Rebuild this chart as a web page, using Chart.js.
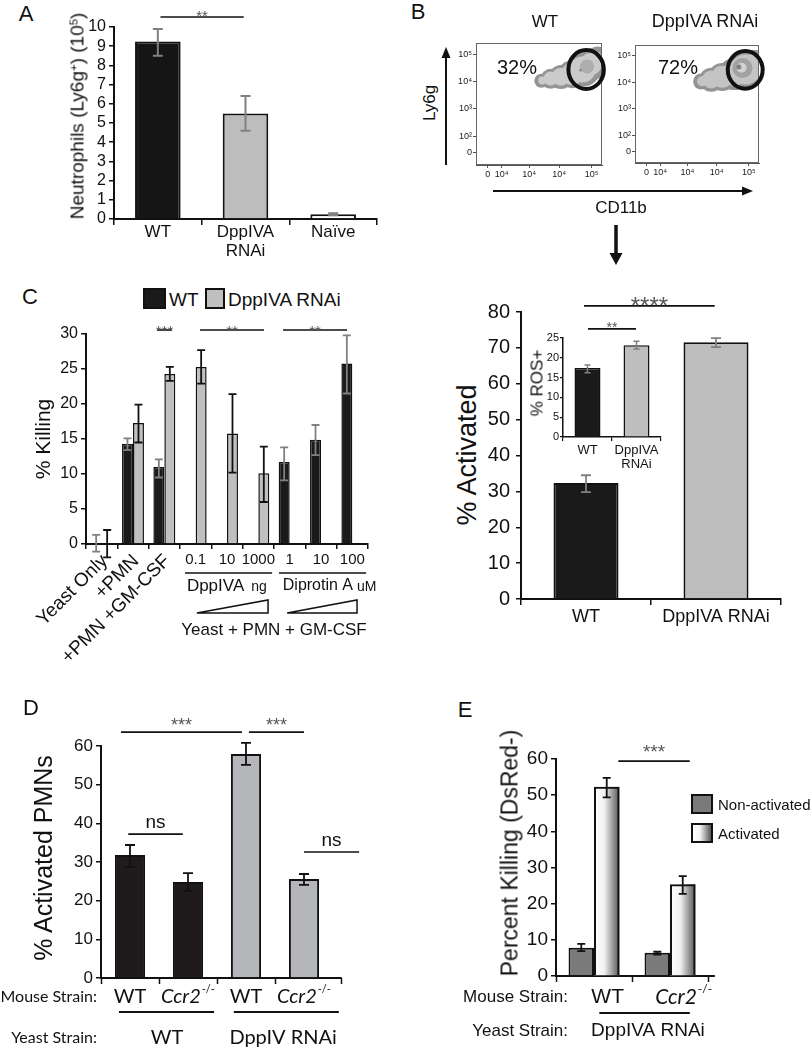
<!DOCTYPE html>
<html><head><meta charset="utf-8">
<script src="https://cdn.jsdelivr.net/npm/chart.js@4.4.1/dist/chart.umd.min.js"></script>
<style>
html,body{margin:0;padding:0;background:#fff;}
body{width:810px;height:1050px;position:relative;overflow:hidden;font-family:'Liberation Sans',Arial,Helvetica,sans-serif;color:#111;}
canvas{position:absolute;}
.t{position:absolute;white-space:nowrap;line-height:1;}
.t sup{font-size:0.6em;position:relative;top:-0.55em;vertical-align:baseline;line-height:0;}
.box{position:absolute;box-sizing:border-box;border:2px solid #111;}
</style></head><body>
<script>
// ================= DATA =================
// Panel A
const aCats = ['WT', ['DppIVA','RNAi'], 'Naïve'];
const aValues = [9.25, 5.5, 0.25];
const aErrLow = [8.5, 4.6, 0.2];
const aErrHigh = [9.9, 6.4, 0.3];

// Panel B (flow plots): density layers, outer -> inner
const bXTickValues = [12.5, 27.5, 57, 89, 124];
const bXTickLabels = ['0','10⁴','10⁴','10⁴','10⁵'];
const bYTickValues = [1.39, 2, 3, 4, 5];
const bYTickLabels = ['0','10²','10³','10⁴','10⁵'];
const bWtOuter = [{x:70,y:4.03,r:7},{x:80,y:4.10,r:10},{x:91,y:4.17,r:12},{x:103,y:4.27,r:14},{x:115,y:4.44,r:17},{x:125,y:4.64,r:16},{x:130,y:4.92,r:10}];
const bWtInner = [{x:71,y:4.04,r:4},{x:80,y:4.11,r:7},{x:91,y:4.18,r:9},{x:103,y:4.28,r:11},{x:114,y:4.44,r:13},{x:123,y:4.64,r:11},{x:128,y:4.9,r:6}];
const bWtRing  = [{x:119,y:4.55,r:7}];
const bWtCore  = [{x:112,y:4.42,r:1.5}];
const bKdOuter = [{x:72,y:4.03,r:8},{x:83,y:4.10,r:12},{x:95,y:4.20,r:14},{x:108,y:4.31,r:16},{x:121,y:4.47,r:19},{x:131,y:4.58,r:17}];
const bKdInner = [{x:73,y:4.04,r:5},{x:83,y:4.11,r:9},{x:95,y:4.21,r:11},{x:108,y:4.32,r:12},{x:120,y:4.48,r:15},{x:129,y:4.58,r:13}];
const bKdRing  = [{x:117,y:4.54,r:10}];
const bKdCore  = [{x:116,y:4.55,r:5}];
const bKdDot   = [{x:113,y:4.58,r:2.5}];
const bGateWT = [118, 4.44, 19, 0.71];
const bGateKd = [120, 4.47, 19, 0.71];
const bPercents = ['32%','72%'];

// Panel C (killing)
const cCats = ['Yeast Only','+PMN','+PMN +GM-CSF','0.1','10','1000','1','10','100'];
const cWT     = [0, 14.3, 11.0, null, null, null, 11.7, 14.9, 25.8];
const cWTLow  = [-1.1, 13.4, 9.5, null, null, null, 9.1, 12.7, 21.5];
const cWTHigh = [1.3, 15.1, 12.1, null, null, null, 13.8, 17.0, 29.8];
const cKD     = [0, 17.3, 24.3, 25.3, 15.8, 10.1, null, null, null];
const cKDLow  = [-1.9, 14.5, 23.3, 22.9, 10.2, 6.0, null, null, null];
const cKDHigh = [2.0, 19.9, 25.3, 27.7, 21.4, 13.9, null, null, null];
const cGroupNames = ['DppIVA','Diprotin A'];
const cGroupUnits = ['ng','uM'];
const cSubtitle = 'Yeast + PMN + GM-CSF';

// Panel C (activated) + inset
const crCats = ['WT','DppIVA RNAi'];
const crValues = [32.3, 71.6];
const crLow = [29.8, 70.2];
const crHigh = [34.5, 72.7];
const insCats = ['WT',['DppIVA','RNAi']];
const insValues = [17.4, 23.2];
const insLow = [16.2, 22.2];
const insHigh = [18.2, 24.2];

// Panel D
const dMouse = ['WT','Ccr2-/-','WT','Ccr2-/-'];
const dYeast = ['WT','DppIV RNAi'];
const dValues = [31.8, 24.8, 57.9, 25.6];
const dLow = [28.7, 22.5, 55.1, 24.1];
const dHigh = [34.4, 27.1, 60.8, 26.9];

// Panel E
const eMouse = ['WT','Ccr2-/-'];
const eYeast = ['DppIVA RNAi'];
const eSeries = ['Non-activated','Activated'];
const eNon = [7.8, 6.4];
const eNonLow = [6.9, 5.9];
const eNonHigh = [8.9, 6.7];
const eAct = [52.3, 25.4];
const eActLow = [49.4, 22.7];
const eActHigh = [54.8, 27.6];

// ================= HELPERS =================
const FONT = "'Liberation Sans', Arial, Helvetica, sans-serif";
const LATO = "Lato, 'Open Sans', sans-serif";
Chart.defaults.font.family = FONT;
Chart.defaults.color = '#111';
Chart.defaults.animation = false;
Chart.defaults.events = [];
Chart.defaults.plugins.legend.display = false;
Chart.defaults.plugins.tooltip.enabled = false;

function canvasAt(x, y, w, h) {
  const c = document.createElement('canvas');
  c.width = w; c.height = h;
  c.style.left = x + 'px'; c.style.top = y + 'px';
  c.style.width = w + 'px'; c.style.height = h + 'px';
  c.dataset.ox = x; c.dataset.oy = y;
  document.body.appendChild(c);
  return c;
}
function T(html, x, y, size, o = {}) {
  const d = document.createElement('div');
  d.className = 't'; d.innerHTML = html;
  d.style.fontSize = size + 'px';
  if (o.fam) d.style.fontFamily = o.fam;
  d.style.left = x + 'px'; d.style.top = y + 'px';
  const ax = o.align === 'left' ? '0' : (o.align === 'right' ? '-100%' : '-50%');
  d.style.transform = 'translate(' + ax + ',-50%)' + (o.rot ? ' rotate(' + o.rot + 'deg)' : '');
  document.body.appendChild(d);
  return d;
}
function B(x, y, w, h, bg) {
  const d = document.createElement('div');
  d.className = 'box';
  d.style.left = x + 'px'; d.style.top = y + 'px';
  d.style.width = w + 'px'; d.style.height = h + 'px';
  d.style.background = bg;
  document.body.appendChild(d);
}
// convert page coordinates to canvas coordinates
function PX(ch, x) { return x - Number(ch.canvas.dataset.ox); }
function PY(ch, y) { return y - Number(ch.canvas.dataset.oy); }

function yAxis(min, max, step, fontSize, width, o = {}) {
  return {
    type: 'linear', min: min, max: max,
    ticks: { stepSize: step, autoSkip: false, font: { size: fontSize }, color: '#111', padding: (o.pad != null ? o.pad : 3) },
    grid: { drawOnChartArea: false, drawTicks: true, tickLength: (o.tl || 5), color: '#111', lineWidth: (o.glw || 1.5) },
    border: { display: true, color: '#111', width: (o.bw || 2) },
    afterFit(s) { s.width = width; }
  };
}
function xAxis(height, o = {}) {
  return {
    type: 'category', offset: true,
    grid: { offset: true, drawOnChartArea: false, drawTicks: o.ticks !== false, tickLength: (o.tl || 6), color: '#111', lineWidth: (o.glw || 1.5) },
    border: { display: true, color: '#111', width: (o.bw || 2) },
    ticks: { display: !!o.labels, font: { size: (o.fs || 16), lineHeight: 1.1 }, color: '#111', padding: (o.pad != null ? o.pad : 2), maxRotation: 0, minRotation: 0, autoSkip: false },
    afterFit(s) { s.height = height; }
  };
}
function drawErr(chart, ds, lo, hi, color, cap, lw) {
  const ctx = chart.ctx, ys = chart.scales.y, meta = chart.getDatasetMeta(ds);
  ctx.save(); ctx.strokeStyle = color; ctx.lineWidth = lw || 1.8;
  meta.data.forEach((el, j) => {
    if (lo[j] == null || hi[j] == null) return;
    const x = el.x, a = ys.getPixelForValue(lo[j]), b = ys.getPixelForValue(hi[j]);
    ctx.beginPath();
    ctx.moveTo(x, a); ctx.lineTo(x, b);
    ctx.moveTo(x - cap, a); ctx.lineTo(x + cap, a);
    ctx.moveTo(x - cap, b); ctx.lineTo(x + cap, b);
    ctx.stroke();
  });
  ctx.restore();
}
function hline(ctx, x0, x1, y, lw, color) {
  ctx.save(); ctx.strokeStyle = color || '#111'; ctx.lineWidth = lw || 1.5;
  ctx.beginPath(); ctx.moveTo(x0, y); ctx.lineTo(x1, y); ctx.stroke(); ctx.restore();
}
function ctext(ctx, s, x, y, size, align, fam, style, color) {
  ctx.save();
  ctx.font = (style ? style + ' ' : '') + size + 'px ' + (fam || FONT);
  ctx.fillStyle = color || '#111'; ctx.textAlign = align || 'center'; ctx.textBaseline = 'middle';
  ctx.fillText(s, x, y); ctx.restore();
}
function drawSig(chart, i0, i1, v, label, size, gap, color, lw) {
  const ctx = chart.ctx, xs = chart.scales.x, ys = chart.scales.y;
  const x0 = xs.getPixelForValue(i0), x1 = xs.getPixelForValue(i1), y = ys.getPixelForValue(v);
  hline(ctx, x0, x1, y, lw || 1.6, '#111');
  ctx.save();
  ctx.fillStyle = color || '#555'; ctx.font = size + 'px ' + FONT;
  ctx.textAlign = 'center'; ctx.textBaseline = 'alphabetic';
  const cy = y - gap;
  const star = label.indexOf('*') >= 0;
  ctx.fillText(label, (x0 + x1) / 2, star ? cy + 0.57 * size : cy + 0.26 * size);
  ctx.restore();
}
function strainLabel(ctx, s, cx, cy, size, fam) {
  ctx.save(); ctx.fillStyle = '#111'; ctx.textBaseline = 'middle';
  if (s.indexOf('-/-') > 0) {
    const base = s.replace('-/-', '');
    const f1 = 'italic ' + size + 'px ' + fam, f2 = Math.round(size * 0.55) + 'px ' + fam;
    ctx.font = f1; const w1 = ctx.measureText(base).width;
    ctx.font = f2; const w2 = ctx.measureText('-/-').width;
    const x0 = cx - (w1 + w2 + 1) / 2;
    ctx.textAlign = 'left';
    ctx.font = f1; ctx.fillText(base, x0, cy);
    ctx.font = f2; ctx.fillText('-/-', x0 + w1 + 1, cy - size * 0.38);
  } else {
    ctx.font = size + 'px ' + fam; ctx.textAlign = 'center'; ctx.fillText(s, cx, cy);
  }
  ctx.restore();
}
function tickMarks(chart, idxs, len) {
  const ctx = chart.ctx, xs = chart.scales.x, b = chart.chartArea.bottom;
  ctx.save(); ctx.strokeStyle = '#111'; ctx.lineWidth = 1.5; ctx.beginPath();
  idxs.forEach(i => { const x = Math.round(xs.getPixelForValue(i)) + 0.5; ctx.moveTo(x, b); ctx.lineTo(x, b + len); });
  ctx.stroke(); ctx.restore();
}

// ================= PANEL A =================
new Chart(canvasAt(60, 0, 330, 262), {
  type: 'bar',
  data: { labels: aCats, datasets: [{ data: aValues, backgroundColor: ['#151515', '#bdbdbd', '#ffffff'], borderColor: '#111', borderWidth: 2, categoryPercentage: 1, barPercentage: 0.52 }] },
  options: {
    responsive: false,
    layout: { padding: { left: 14, top: 27, right: 13, bottom: 3 } },
    scales: { x: xAxis(40, { labels: true, fs: 17, pad: -2 }), y: yAxis(0, 10, 1, 16, 40) }
  },
  plugins: [{ id: 'pa', afterDraw(ch) {
    drawErr(ch, 0, aErrLow, aErrHigh, '#808080', 5, 2);
    drawSig(ch, 0.03, 0.98, 10.52, '**', 15, 4.5);
  } }]
});

// ================= PANEL B =================
function flow(canvasLeft, areaLeft, layers, gate) {
  const yW = areaLeft - canvasLeft;
  return new Chart(canvasAt(canvasLeft, 26, 171, 156), {
    type: 'bubble',
    data: { datasets: layers.map((l, i) => ({ data: l[0], backgroundColor: l[1], borderWidth: 0, order: layers.length - i })) },
    options: {
      responsive: false,
      layout: { padding: { left: 0, top: 8, right: 171 - yW - 135, bottom: 3 } },
      scales: {
        x: { type: 'linear', min: 0, max: 135,
          afterBuildTicks(s) { s.ticks = bXTickValues.map(v => ({ value: v })); },
          ticks: { callback: (v, i) => bXTickLabels[i], font: { size: 9 }, color: '#222', padding: 1, maxRotation: 0, autoSkip: false },
          grid: { drawOnChartArea: false, tickLength: 3, color: '#555', lineWidth: 1 },
          border: { color: '#555', width: 1 },
          afterFit(s) { s.height = 14; } },
        y: { type: 'linear', min: 0.95, max: 5.41,
          afterBuildTicks(s) { s.ticks = bYTickValues.map(v => ({ value: v })); },
          ticks: { callback: (v, i) => bYTickLabels[i], font: { size: 9 }, color: '#222', padding: 1, autoSkip: false },
          grid: { drawOnChartArea: false, tickLength: 3, color: '#555', lineWidth: 1 },
          border: { color: '#555', width: 1 },
          afterFit(s) { s.width = yW; } }
      }
    },
    plugins: [{ id: 'gate', afterDraw(ch) {
      const a = ch.chartArea, ctx = ch.ctx, xs = ch.scales.x, ys = ch.scales.y;
      ctx.save();
      ctx.strokeStyle = '#666'; ctx.lineWidth = 1;
      ctx.strokeRect(a.left + 0.5, a.top + 0.5, a.right - a.left - 1, a.bottom - a.top - 1);
      const cx = xs.getPixelForValue(gate[0]), cy = ys.getPixelForValue(gate[1]);
      const rx = Math.abs(xs.getPixelForValue(gate[0] + gate[2]) - cx), ry = Math.abs(ys.getPixelForValue(gate[1] + gate[3]) - cy);
      ctx.strokeStyle = '#111'; ctx.lineWidth = 4;
      ctx.beginPath(); ctx.ellipse(cx, cy, rx, ry, 0, 0, Math.PI * 2); ctx.stroke();
      ctx.restore();
    } }]
  });
}
flow(448, 476, [[bWtOuter, '#949494'], [bWtInner, '#cbcbcb'], [bWtRing, '#adadad'], [bWtCore, '#8a8a8a']], bGateWT);
flow(607, 635, [[bKdOuter, '#949494'], [bKdInner, '#c4c4c4'], [bKdRing, '#a2a2a2'], [bKdCore, '#d2d2d2'], [bKdDot, '#808080']], bGateKd);

// ================= PANEL C (killing) =================
new Chart(canvasAt(20, 310, 370, 350), {
  type: 'bar',
  data: { labels: cCats, datasets: [
    { data: cWT, backgroundColor: '#1a1a1a', borderColor: '#111', borderWidth: 1.5, categoryPercentage: 0.7, barPercentage: 1 },
    { data: cKD, backgroundColor: '#c0c0c0', borderColor: '#111', borderWidth: 1.5, categoryPercentage: 0.7, barPercentage: 1 }
  ] },
  options: {
    responsive: false,
    layout: { padding: { left: 32, top: 24, right: 22, bottom: 106 } },
    scales: { x: xAxis(10, { tl: 5 }), y: yAxis(0, 30, 5, 16, 34) }
  },
  plugins: [{ id: 'pc', afterDraw(ch) {
    const ctx = ch.ctx, xs = ch.scales.x;
    const Y = v => PY(ch, v);
    drawErr(ch, 0, cWTLow, cWTHigh, '#808080', 4, 1.8);
    drawErr(ch, 1, cKDLow, cKDHigh, '#111', 4, 1.8);
    drawSig(ch, 1.77, 2.24, 30.57, '***', 15, 3);
    drawSig(ch, 3.14, 5.18, 30.57, '**', 15, 3);
    drawSig(ch, 5.79, 7.83, 30.57, '**', 15, 3);
    for (let i = 0; i < 3; i++) {
      ctx.save();
      ctx.translate(xs.getPixelForValue(i) + 3, Y(558));
      ctx.rotate(-Math.PI / 4);
      ctx.font = '19px ' + FONT; ctx.fillStyle = '#111'; ctx.textAlign = 'right'; ctx.textBaseline = 'middle';
      ctx.fillText(cCats[i], 0, 0);
      ctx.restore();
    }
    for (let i = 3; i < 9; i++) ctext(ctx, cCats[i], xs.getPixelForValue(i), Y(560), 15);
    hline(ctx, xs.getPixelForValue(2.66), xs.getPixelForValue(5.44), Y(573), 1.5);
    hline(ctx, xs.getPixelForValue(5.66), xs.getPixelForValue(8.44), Y(573), 1.5);
    ctx.save(); ctx.font = '17px ' + FONT;
    const w0 = ctx.measureText(cGroupNames[0]).width; ctx.font = '16px ' + FONT;
    const w1 = ctx.measureText(cGroupNames[1]).width; ctx.restore();
    const g0 = xs.getPixelForValue(2.72), g1 = xs.getPixelForValue(5.78);
    ctext(ctx, cGroupNames[0], g0, Y(586), 17, 'left');
    ctext(ctx, cGroupUnits[0], g0 + w0 + 7, Y(587), 14, 'left');
    ctext(ctx, cGroupNames[1], g1, Y(586), 16, 'left');
    ctext(ctx, cGroupUnits[1], g1 + w1 + 4, Y(587), 14, 'left');
    ctx.save(); ctx.strokeStyle = '#111'; ctx.lineWidth = 1.5;
    [[3.04, 5.31], [5.92, 8.15]].forEach(w => {
      const xa = xs.getPixelForValue(w[0]), xb = xs.getPixelForValue(w[1]);
      ctx.beginPath(); ctx.moveTo(xa, Y(613)); ctx.lineTo(xb, Y(600)); ctx.lineTo(xb, Y(613)); ctx.closePath(); ctx.stroke();
    });
    ctx.restore();
    ctext(ctx, cSubtitle, xs.getPixelForValue(5.5), Y(630), 17);
  } }]
});

// ================= PANEL C (activated) =================
new Chart(canvasAt(485, 285, 305, 350), {
  type: 'bar',
  data: { labels: crCats, datasets: [{ data: crValues, backgroundColor: ['#1a1a1a', '#bebebe'], borderColor: '#111', borderWidth: 2, categoryPercentage: 1, barPercentage: 0.5 }] },
  options: {
    responsive: false,
    layout: { padding: { left: 0, top: 27, right: 9, bottom: 6 } },
    scales: { x: xAxis(30, { labels: true, fs: 18 }), y: yAxis(0, 80, 10, 20, 36, { pad: 6 }) }
  },
  plugins: [{ id: 'pcr', afterDraw(ch) {
    drawErr(ch, 0, crLow, crHigh, '#808080', 5, 1.8);
    drawSig(ch, -0.015, 0.99, 81.7, '****', 24, 6);
  } }]
});
// inset
new Chart(canvasAt(540, 316, 128, 156), {
  type: 'bar',
  data: { labels: insCats, datasets: [{ data: insValues, backgroundColor: ['#1a1a1a', '#bebebe'], borderColor: '#111', borderWidth: 1.5, categoryPercentage: 1, barPercentage: 0.53 }] },
  options: {
    responsive: false,
    layout: { padding: { left: 0, top: 22, right: 7, bottom: 3 } },
    scales: { x: xAxis(32, { labels: true, fs: 13, tl: 4, glw: 1.2, bw: 1.5 }), y: yAxis(0, 25, 5, 11, 23, { tl: 3, bw: 1.5, glw: 1.2, pad: 1 }) }
  },
  plugins: [{ id: 'pins', afterDraw(ch) {
    drawErr(ch, 0, insLow, insHigh, '#808080', 3, 1.5);
    drawSig(ch, 0.01, 0.99, 27.3, '**', 14, 5);
  } }]
});

// ================= PANEL D =================
new Chart(canvasAt(0, 705, 380, 345), {
  type: 'bar',
  data: { labels: dMouse, datasets: [{ data: dValues, backgroundColor: ['#1f1b1c', '#1f1b1c', '#b4b6b9', '#b4b6b9'], borderColor: '#111', borderWidth: 2, categoryPercentage: 1, barPercentage: 0.52 }] },
  options: {
    responsive: false,
    layout: { padding: { left: 65, top: 41, right: 47, bottom: 64 } },
    scales: { x: xAxis(8, { ticks: false }), y: yAxis(0, 60, 10, 17, 36) }
  },
  plugins: [{ id: 'pd', afterDraw(ch) {
    const ctx = ch.ctx, xs = ch.scales.x, a = ch.chartArea;
    const Y = v => PY(ch, v), X = v => PX(ch, v);
    drawErr(ch, 0, dLow, dHigh, '#111', 5, 1.8);
    hline(ctx, a.right - 1, xs.getPixelForValue(3.65), a.bottom, 2);
    tickMarks(ch, [-0.5, 0.5, 1.5, 2.5, 3.64], 6);
    drawSig(ch, -0.155, 1.93, 63.6, '***', 18, 11);
    drawSig(ch, 2.05, 3.0, 63.6, '***', 18, 11);
    drawSig(ch, -0.03, 0.91, 37.2, 'ns', 19, 11, '#111');
    drawSig(ch, 3.0, 3.95, 32.6, 'ns', 19, 11, '#111');
    ctext(ctx, 'Mouse Strain:', X(97), Y(997), 16, 'right', LATO);
    dMouse.forEach((m, i) => strainLabel(ctx, m, xs.getPixelForValue(i), Y(997), 20, LATO));
    hline(ctx, xs.getPixelForValue(-0.19), xs.getPixelForValue(1.45), Y(1012), 2);
    hline(ctx, xs.getPixelForValue(1.79), xs.getPixelForValue(3.6), Y(1012), 2);
    ctext(ctx, 'Yeast Strain:', X(97), Y(1038), 16, 'right', LATO);
    ctext(ctx, dYeast[0], xs.getPixelForValue(0.64), Y(1038), 20, 'center', LATO);
    ctext(ctx, dYeast[1], xs.getPixelForValue(2.64), Y(1038), 20, 'center', LATO);
  } }]
});

// ================= PANEL E =================
new Chart(canvasAt(440, 730, 370, 320), {
  type: 'bar',
  data: { labels: eMouse, datasets: [
    { label: eSeries[0], data: eNon, backgroundColor: '#7a7a7a', borderColor: '#111', borderWidth: 2, categoryPercentage: 0.67, barPercentage: 1 },
    { label: eSeries[1], data: eAct, backgroundColor: 'rgba(0,0,0,0)', borderColor: '#111', borderWidth: 2, categoryPercentage: 0.67, barPercentage: 1 }
  ] },
  options: {
    responsive: false,
    layout: { padding: { left: 80, top: 29, right: 102, bottom: 66 } },
    scales: { x: xAxis(8, { ticks: false }), y: yAxis(0, 60, 10, 19, 36) }
  },
  plugins: [{ id: 'pe',
    beforeDatasetDraw(ch, args) {
      if (args.index !== 1) return;
      const ctx = ch.ctx;
      ch.getDatasetMeta(1).data.forEach(el => {
        const p = el.getProps(['x', 'y', 'base', 'width']);
        const l = p.x - p.width / 2;
        const g = ctx.createLinearGradient(l, 0, l + p.width, 0);
        g.addColorStop(0, '#ffffff'); g.addColorStop(0.4, '#f2f2f2'); g.addColorStop(1, '#555555');
        ctx.save(); ctx.fillStyle = g; ctx.fillRect(l, p.y, p.width, p.base - p.y); ctx.restore();
      });
    },
    afterDraw(ch) {
      const ctx = ch.ctx, xs = ch.scales.x, a = ch.chartArea;
      const Y = v => PY(ch, v), X = v => PX(ch, v);
      drawErr(ch, 0, eNonLow, eNonHigh, '#111', 4, 1.8);
      drawErr(ch, 1, eActLow, eActHigh, '#111', 4, 1.8);
      hline(ctx, a.right - 1, xs.getPixelForValue(1.59), a.bottom, 2);
      tickMarks(ch, [-0.5, 0.5, 1.5], 6);
      drawSig(ch, 0.32, 1.26, 59.4, '***', 19, 14);
      ctext(ctx, 'Mouse Strain:', X(568), Y(997), 17, 'right');
      eMouse.forEach((m, i) => strainLabel(ctx, m, xs.getPixelForValue(i + 0.18), Y(997), 21, m.indexOf('-/-') > 0 ? LATO : FONT));
      hline(ctx, xs.getPixelForValue(0.07), xs.getPixelForValue(1.26), Y(1013), 2);
      ctext(ctx, 'Yeast Strain:', X(568), Y(1031), 17, 'right');
      ctext(ctx, eYeast[0], xs.getPixelForValue(0.71), Y(1031), 19);
    }
  }]
});

// ================= TEXT OVERLAYS =================
T('A', 26, 14, 22);
T('Neutrophils (Ly6g<sup>+</sup>) (10<sup>5</sup>)', 77, 116, 19, { rot: -90 });
T('B', 418, 12, 22);
T('WT', 545, 21, 17);
T('DppIVA RNAi', 705, 21, 18);
T('Ly6g', 429, 103, 17, { rot: -90 });
T('CD11b', 621, 207, 17);
T(bPercents[0], 517, 67, 20);
T(bPercents[1], 678, 67, 20);
T('C', 30, 297, 22);
B(143, 288, 23, 21, '#1a1a1a');
T('WT', 169, 299, 19, { align: 'left' });
B(205, 288, 20, 21, '#c0c0c0');
T('DppIVA RNAi', 228, 299, 19, { align: 'left' });
T('% Killing', 42, 439, 21, { rot: -90 });
T('% Activated', 467, 455, 27, { rot: -90 });
T('% ROS+', 537, 383, 17, { rot: -90 });
T('D', 31, 708, 22);
T('% Activated PMNs', 43, 858, 25, { rot: -90 });
T('E', 465, 710, 22);
T('Percent Killing (DsRed-)', 510, 853, 23, { rot: -90 });
B(691, 794, 22, 20, '#7a7a7a');
T(eSeries[0], 718, 804, 15, { align: 'left' });
B(691, 823, 22, 20, 'linear-gradient(to right,#ffffff 0%,#f2f2f2 40%,#555555 100%)');
T(eSeries[1], 718, 833, 15, { align: 'left' });

// ================= ARROWS =================
(function () {
  const c = canvasAt(0, 0, 810, 1050);
  const ctx = c.getContext('2d');
  ctx.fillStyle = '#111'; ctx.strokeStyle = '#111';
  function arrow(x0, y0, x1, y1, lw, hw, hl) {
    const ang = Math.atan2(y1 - y0, x1 - x0);
    const bx = x1 - hl * Math.cos(ang), by = y1 - hl * Math.sin(ang);
    ctx.lineWidth = lw; ctx.beginPath(); ctx.moveTo(x0, y0); ctx.lineTo(bx, by); ctx.stroke();
    ctx.beginPath(); ctx.moveTo(x1, y1);
    ctx.lineTo(bx + hw * Math.sin(ang), by - hw * Math.cos(ang));
    ctx.lineTo(bx - hw * Math.sin(ang), by + hw * Math.cos(ang));
    ctx.closePath(); ctx.fill();
  }
  arrow(446, 165, 446, 47, 2, 4.5, 11);
  arrow(493, 191, 753, 191, 2, 4.5, 11);
  arrow(616, 225, 616, 265, 3.5, 6.5, 12);
})();
</script>
</body></html>
